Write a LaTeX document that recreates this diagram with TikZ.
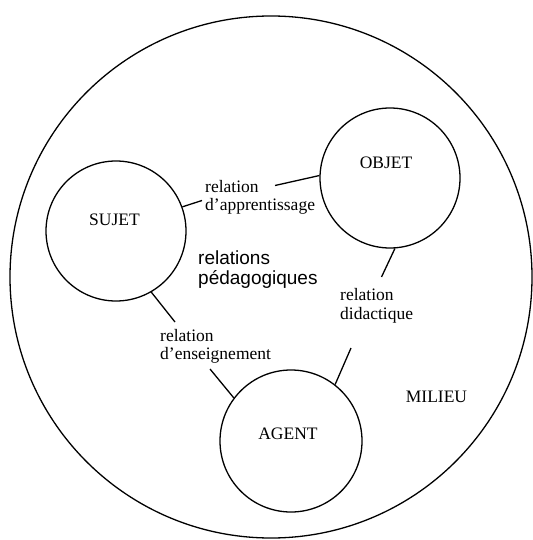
\documentclass[tikz,border=0pt]{standalone}
\usepackage{fontspec}
\setmainfont{Liberation Serif}
\newfontfamily\relfont{Liberation Sans}
\usetikzlibrary{shapes,calc}

\begin{document}
\begin{tikzpicture}[x=1pt,y=-1pt]
			\tikzstyle{pole}=[circle, draw, line width=1.3pt, inner sep=0pt, minimum size=140pt]
			\tikzstyle{every node}=[font=\fontsize{17.5}{18.5}\selectfont]
			\tikzstyle{rel}=[align=left, anchor=north west, inner sep=0pt]
			\tikzstyle{link}=[line width=1.3pt]
			\useasboundingbox (0,0) rectangle (532,540);
			\node[pole, minimum size=522pt] (milieu) at (271,277) {};
			\node[pole, label={[xshift=-1.5pt,yshift=11pt]center:SUJET}] (sujet) at (116,231) {};
			\node[pole, label={[xshift=-4pt,yshift=15.5pt]center:OBJET}] (objet) at (390,178) {};
			\node[pole, minimum size=142pt, label={[xshift=-3pt,yshift=7pt]center:AGENT}] (agent) at (291,441) {};
			\node (milieutxt) at (436.5,397) {MILIEU};
			\node[rel] (apprent) at (205,179.7) {relation\\d’apprentissage};
			\node[rel, font=\relfont\fontsize{19}{20}\selectfont] (peda) at (198,250.4) {relations\\pédagogiques};
			\node[rel] (didac) at (340,288.5) {relation\\didactique};
			\node[rel] (enseign) at (160,328.7) {relation\\d’enseignement};
			\coordinate (c1) at (202,200.5);
			\coordinate (c2) at (275,185.5);
			\coordinate (c3) at (381.5,277);
			\coordinate (c4) at (351,348);
			\coordinate (c5) at (175,322);
			\coordinate (c6) at (210,369);
			\draw[link] (sujet.20) -- (c1);
			\draw[link] (c2) -- (objet.178);
			\draw[link] (objet.-86) -- (c3);
			\draw[link] (c4) -- (agent.52);
			\draw[link] (sujet.-60) -- (c5);
			\draw[link] (c6) -- (agent.143);
		\end{tikzpicture}
\end{document}
